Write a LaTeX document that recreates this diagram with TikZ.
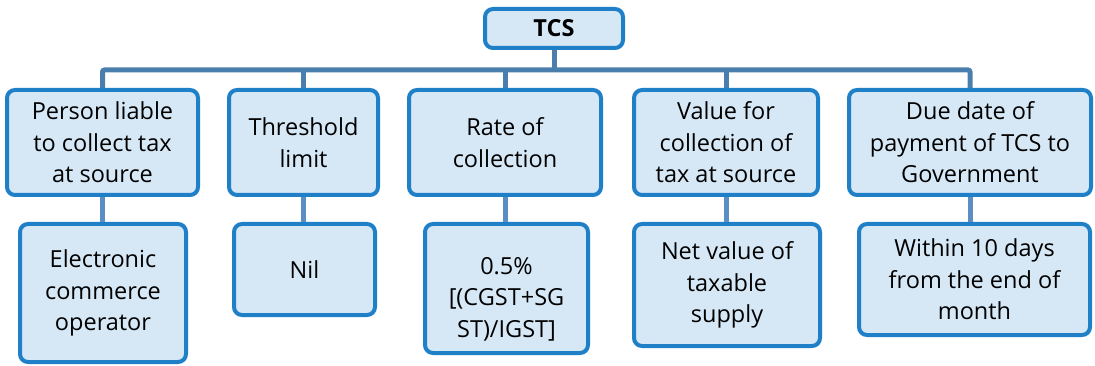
\documentclass[tikz,border=0pt]{standalone}
\usepackage{fontspec}
\setmainfont{Open Sans}
\definecolor{boxborder}{RGB}{31,128,200}
\definecolor{boxfill}{RGB}{214,232,246}
\definecolor{connline}{RGB}{74,126,172}
\definecolor{connlow}{RGB}{90,142,196}
\begin{document}
\begin{tikzpicture}[x=1pt,y=-1pt,
  box/.style={draw=boxborder,fill=boxfill,line width=4pt,rounded corners=8pt,
    align=center,inner sep=1pt,font=\fontsize{23.5}{31.5}\selectfont,text=black},
  conn/.style={draw=connline,line width=5pt,rounded corners=2pt},
  connb/.style={draw=connlow,line width=5pt}]
\useasboundingbox (0,0) rectangle (1095,366);
\coordinate (bar) at (0,70);
% root
\node[box,minimum width=138pt,minimum height=39pt,font=\fontsize{23.5}{31.5}\selectfont\bfseries] (tcs) at (554,28.5) {TCS};
% level 1
\node[box,minimum width=191pt,minimum height=105pt] (a1) at (102.5,142.5) {Person liable\\to collect tax\\at source};
\node[box,minimum width=149pt,minimum height=105pt] (a2) at (303.5,142.5) {Threshold\\limit};
\node[box,minimum width=192pt,minimum height=105pt] (a3) at (505,142.5) {Rate of\\collection};
\node[box,minimum width=184pt,minimum height=105pt] (a4) at (726,142.5) {Value for\\collection of\\tax at source};
\node[box,minimum width=242pt,minimum height=105pt] (a5) at (970,142.5) {Due date of\\payment of TCS to\\Government};
% level 2
\node[box,minimum width=166pt,minimum height=138pt] (b1) at (103,293) {Electronic\\commerce\\operator};
\node[box,minimum width=141pt,minimum height=91pt] (b2) at (304.5,269.5) {Nil};
\node[box,minimum width=163pt,minimum height=129pt] (b3) at (506.5,288.5) {\rule{0pt}{38pt}0.5\%\\{[}(CGST+SG\\ST)/IGST]};
\node[box,minimum width=186pt,minimum height=122pt] (b4) at (727,285) {Net value of\\taxable\\supply};
\node[box,minimum width=231pt,minimum height=111pt] (b5) at (974.5,279.5) {Within 10 days\\from the end of\\month};
% connectors
\draw[conn] (a1.north) -- (a1.north |- bar) -| (a5.north);
\draw[conn] (tcs.south) -- (tcs.south |- bar);
\draw[conn] (a2.north) -- (a2.north |- bar);
\draw[conn] (a3.north) -- (a3.north |- bar);
\draw[conn] (a4.north) -- (a4.north |- bar);
\draw[connb] (a1.south) -- (a1.south |- b1.north);
\draw[connb] (a2.south) -- (a2.south |- b2.north);
\draw[connb] (a3.south) -- (a3.south |- b3.north);
\draw[connb] (a4.south) -- (a4.south |- b4.north);
\draw[connb] (a5.south) -- (a5.south |- b5.north);
\end{tikzpicture}
\end{document}
